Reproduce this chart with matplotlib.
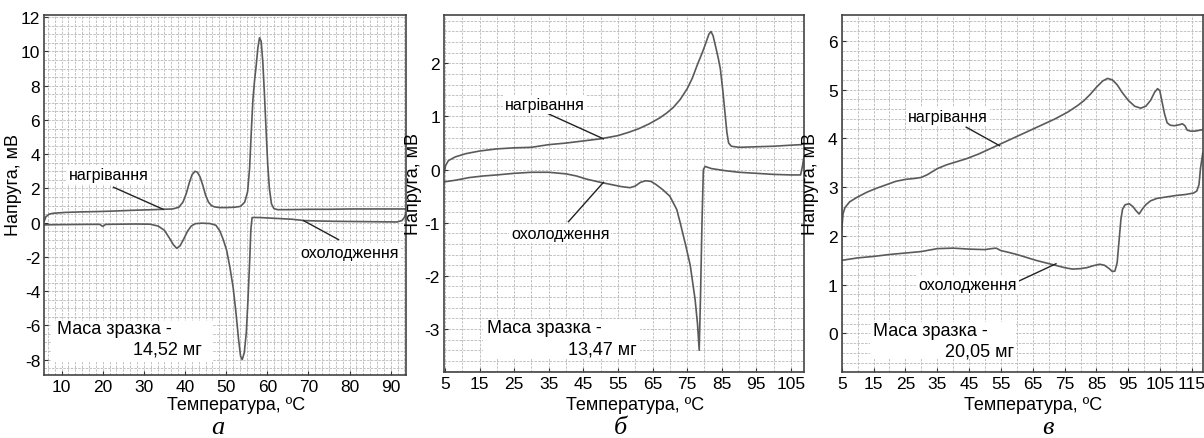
import matplotlib
matplotlib.use("Agg")
import matplotlib.pyplot as plt
from matplotlib.ticker import MultipleLocator

plt.rcParams['font.family'] = ['Liberation Sans', 'DejaVu Sans']
plt.rcParams['axes.unicode_minus'] = False

# ---------------- panel a ----------------
ha_x = [5.8, 6.2, 7.0, 8.0, 11, 15, 19, 23, 27, 31, 34.7, 37, 38.5, 39.5, 40.3, 41.0, 41.7, 42.4,
        43.0, 43.6, 44.3, 45.0, 45.7, 46.4, 47.2, 48.5, 50, 52, 53.5, 54.5, 55.2, 55.7, 56.1, 56.5,
        56.9, 57.3, 57.7, 58.1, 58.5, 58.9, 59.3, 59.7, 60.1, 60.5, 61.0, 61.6, 62.5, 65, 70, 75,
        80, 85, 90, 93.7]
ha_y = [0.1, 0.35, 0.5, 0.55, 0.6, 0.63, 0.65, 0.68, 0.72, 0.75, 0.78, 0.8, 0.9, 1.2, 1.7, 2.3,
        2.8, 3.0, 2.95, 2.7, 2.2, 1.6, 1.2, 1.0, 0.92, 0.88, 0.88, 0.9, 0.95, 1.2, 1.8, 3.2, 5.3,
        7.2, 8.3, 9.2, 10.2, 10.8, 10.6, 9.4, 7.5, 5.4, 3.4, 2.0, 1.1, 0.82, 0.76, 0.76, 0.78,
        0.78, 0.8, 0.8, 0.8, 0.8]
ca_x = [5.8, 8, 12, 16, 19.3, 20.0, 20.7, 24, 28, 31.5, 33.5, 35, 36.2, 37.2, 38.0, 38.8, 39.7,
        40.6, 41.5, 42.5, 44, 46, 47.5, 48.5, 49.3, 50.1, 50.9, 51.7, 52.4, 53.0, 53.5, 53.9, 54.4,
        54.9, 55.3, 55.7, 56.0, 56.3, 58, 62, 66, 69, 72, 76, 80, 84, 88, 91.5, 92.7, 93.3, 93.7]
ca_y = [-0.13, -0.12, -0.11, -0.1, -0.1, -0.22, -0.1, -0.09, -0.08, -0.09, -0.2, -0.45, -0.9,
        -1.3, -1.5, -1.35, -0.95, -0.5, -0.2, -0.06, -0.03, -0.05, -0.15, -0.5, -1.0, -1.6, -2.6,
        -3.8, -5.3, -6.8, -7.8, -8.0, -7.6, -6.4, -4.5, -2.3, -0.4, 0.3, 0.3, 0.25, 0.2, 0.12, 0.1,
        0.08, 0.07, 0.06, 0.05, 0.04, 0.12, 0.3, 0.55]

# ---------------- panel b ----------------
hb_x = [4.8, 5.2, 6, 8, 11, 15, 20, 25, 30, 35, 40, 45, 50, 55, 58, 61, 64, 67, 69, 71, 73, 75,
        76.5, 78, 79.5, 80.5, 81.3, 81.9, 82.5, 83.3, 84.0, 84.6, 85.3, 85.9, 86.5, 87.0, 87.8,
        90, 95, 100, 105, 108, 108.8]
hb_y = [-0.05, 0.08, 0.17, 0.24, 0.3, 0.35, 0.39, 0.41, 0.42, 0.47, 0.5, 0.54, 0.58, 0.64, 0.7,
        0.77, 0.86, 0.97, 1.06, 1.17, 1.32, 1.52, 1.72, 1.98, 2.22, 2.4, 2.55, 2.6, 2.52, 2.3, 2.1,
        1.9, 1.5, 1.1, 0.7, 0.5, 0.44, 0.42, 0.43, 0.44, 0.46, 0.47, 0.5]
cb_x = [4.8, 8, 12, 16, 20, 25, 30, 35, 40, 43, 46, 50, 53, 56, 58.5, 60, 61.5, 63, 64.5, 66, 68,
        70, 72, 73, 74.5, 75.9, 77.3, 78.0, 78.5, 78.9, 79.3, 79.7, 80.2, 82, 86, 90, 95, 100, 105,
        107.8, 108.3, 108.8]
cb_y = [-0.23, -0.2, -0.15, -0.12, -0.1, -0.07, -0.05, -0.05, -0.08, -0.12, -0.18, -0.24, -0.28,
        -0.32, -0.34, -0.31, -0.24, -0.21, -0.22, -0.28, -0.38, -0.5, -0.75, -1.0, -1.4, -1.8,
        -2.44, -2.9, -3.4, -2.3, -1.0, 0.0, 0.06, 0.02, -0.02, -0.05, -0.07, -0.09, -0.1, -0.1,
        0.05, 0.25]

# ---------------- panel c ----------------
hc_x = [5.0, 5.4, 6.0, 7.5, 10, 13, 16, 19, 22, 25, 28, 30, 32, 35, 38, 41, 44, 48, 52, 56, 60,
        64, 68, 72, 76, 79, 81, 83, 85, 87, 88.5, 90, 91.5, 93, 95, 97, 98.9, 100.5, 102, 103.3,
        104.2, 104.9, 105.6, 106.4, 107.2, 108.2, 109.5, 111, 112, 112.8, 113.5, 114.5, 116, 118.4]
hc_y = [2.1, 2.45, 2.58, 2.7, 2.8, 2.9, 2.98, 3.05, 3.12, 3.16, 3.18, 3.2, 3.26, 3.38, 3.46, 3.52,
        3.58, 3.68, 3.8, 3.92, 4.04, 4.16, 4.28, 4.4, 4.54, 4.67, 4.77, 4.9, 5.05, 5.18, 5.23, 5.2,
        5.1, 4.95, 4.78, 4.66, 4.62, 4.66, 4.78, 4.95, 5.02, 4.98, 4.75, 4.5, 4.32, 4.27, 4.26,
        4.28, 4.3, 4.26, 4.17, 4.15, 4.15, 4.18]
cc_x = [5.0, 10, 15, 20, 25, 30, 35, 40, 45, 50, 52, 53.5, 55, 57, 60, 63, 66, 69, 72, 75, 77.5,
        80, 82, 84, 86, 87.5, 89, 90, 90.8, 91.5, 92.1, 92.7, 93.2, 94, 95.3, 96.5, 97.4, 98.4,
        99.4, 100.5, 102, 104, 107, 110, 113, 115.5, 116.5, 117.2, 117.7, 118.4]
cc_y = [1.5, 1.55, 1.58, 1.62, 1.65, 1.68, 1.74, 1.75, 1.73, 1.72, 1.74, 1.75, 1.7, 1.67, 1.62,
        1.56, 1.5, 1.45, 1.4, 1.35, 1.32, 1.33, 1.35, 1.39, 1.42, 1.4, 1.33, 1.27, 1.28, 1.45, 1.9,
        2.35, 2.55, 2.64, 2.66, 2.6, 2.52, 2.45, 2.55, 2.64, 2.72, 2.77, 2.8, 2.83, 2.85, 2.88,
        2.92, 3.05, 3.4, 3.7]

# labels
ylabel = "Напруга, мВ"
xlabel = "Температура, ºC"
heat_label = "нагрівання"
cool_label = "охолодження"
mass_title = "Маса зразка -"
masses = ["14,52 мг", "13,47 мг", "20,05 мг"]
letters = ["а", "б", "в"]

fig = plt.figure(figsize=(12.04, 4.39), dpi=100)

axes_pos = [[0.0368, 0.1435, 0.3004, 0.820],
            [0.3690, 0.1503, 0.2988, 0.8132],
            [0.6991, 0.1503, 0.2999, 0.8132]]

panels = [
    dict(hx=ha_x, hy=ha_y, cx=ca_x, cy=ca_y, xlim=(5.8, 93.7), ylim=(-8.9, 12.13),
         xt=range(10, 91, 10), yt=range(-8, 13, 2), gx=10 / 6, gy=0.5,
         heat_txt=(21.4, 2.79), heat_line=([22.6, 34.7], [2.07, 0.78]),
         cool_txt=(80.1, -1.76), cool_line=([68.8, 77.3], [0.12, -0.99]),
         box=(0.02, 0.035, 0.447, 0.116), t1=(0.035, 0.128), t2=(0.435, 0.072)),
    dict(hx=hb_x, hy=hb_y, cx=cb_x, cy=cb_y, xlim=(4.8, 108.8), ylim=(-3.81, 2.91),
         xt=range(5, 106, 10), yt=range(-3, 3), gx=5, gy=0.2,
         heat_txt=(33.9, 1.23), heat_line=([34.9, 50.8], [1.05, 0.58]),
         cool_txt=(38.3, -1.21), cool_line=([40.7, 50.8], [-0.98, -0.24]),
         box=(0.108, 0.036, 0.436, 0.112), t1=(0.118, 0.126), t2=(0.535, 0.064)),
    dict(hx=hc_x, hy=hc_y, cx=cc_x, cy=cc_y, xlim=(5, 118.4), ylim=(-0.79, 6.53),
         xt=range(5, 116, 10), yt=range(0, 7), gx=5, gy=0.2,
         heat_txt=(38.4, 4.45), heat_line=([44.1, 54.6], [4.23, 3.85]),
         cool_txt=(44.6, 1.0), cool_line=([59.8, 72.3], [1.05, 1.43]),
         box=(0.078, 0.036, 0.405, 0.104), t1=(0.086, 0.115), t2=(0.478, 0.059)),
]

letter_x = [218 / 1204, 620 / 1204, 1048 / 1204]
xlabel_y = [-0.058, -0.068, -0.068]

for i, p in enumerate(panels):
    ax = fig.add_axes(axes_pos[i])
    ax.set_xlim(*p['xlim'])
    ax.set_ylim(*p['ylim'])
    ax.set_xticks(list(p['xt']))
    ax.set_yticks(list(p['yt']))
    ax.xaxis.set_minor_locator(MultipleLocator(p['gx']))
    ax.yaxis.set_minor_locator(MultipleLocator(p['gy']))
    ax.grid(which='both', color='#b8b8b8', linestyle=(0, (3, 1.5)), linewidth=0.6)
    ax.set_axisbelow(True)
    ax.tick_params(which='major', direction='in', length=3, labelsize=12.5, color='#333333',
                   pad=3)
    ax.tick_params(which='minor', length=0)
    for s in ax.spines.values():
        s.set_color('#444444')
        s.set_linewidth(1.2)

    ax.plot(p['hx'], p['hy'], color='#5a5a5a', lw=1.2)
    ax.plot(p['cx'], p['cy'], color='#5a5a5a', lw=1.2)

    ax.plot(*p['heat_line'], color='#222222', lw=1.0)
    ax.plot(*p['cool_line'], color='#222222', lw=1.0)
    ax.text(*p['heat_txt'], heat_label, fontsize=11.5, ha='center', va='center',
            bbox=dict(facecolor='white', edgecolor='none', pad=1.5))
    ax.text(*p['cool_txt'], cool_label, fontsize=11.5, ha='center', va='center',
            bbox=dict(facecolor='white', edgecolor='none', pad=1.5))

    bx, by, bw, bh = p['box']
    ax.add_patch(plt.Rectangle((bx, by), bw, bh, transform=ax.transAxes,
                               facecolor='white', edgecolor='none', zorder=3))
    ax.text(*p['t1'], mass_title, transform=ax.transAxes, fontsize=13,
            ha='left', va='center', zorder=4)
    ax.text(*p['t2'], masses[i], transform=ax.transAxes, fontsize=13,
            ha='right', va='center', zorder=4)

    ax.set_ylabel(ylabel, fontsize=13)
    ax.set_xlabel(xlabel, fontsize=13)
    ax.yaxis.set_label_coords(-0.062, 0.53)
    ax.xaxis.set_label_coords(0.53, xlabel_y[i])

    fig.text(letter_x[i], 0.001, letters[i], fontsize=19, family='Liberation Serif',
             style='italic', ha='center', va='bottom')

fig.savefig("out.png", dpi=100)
